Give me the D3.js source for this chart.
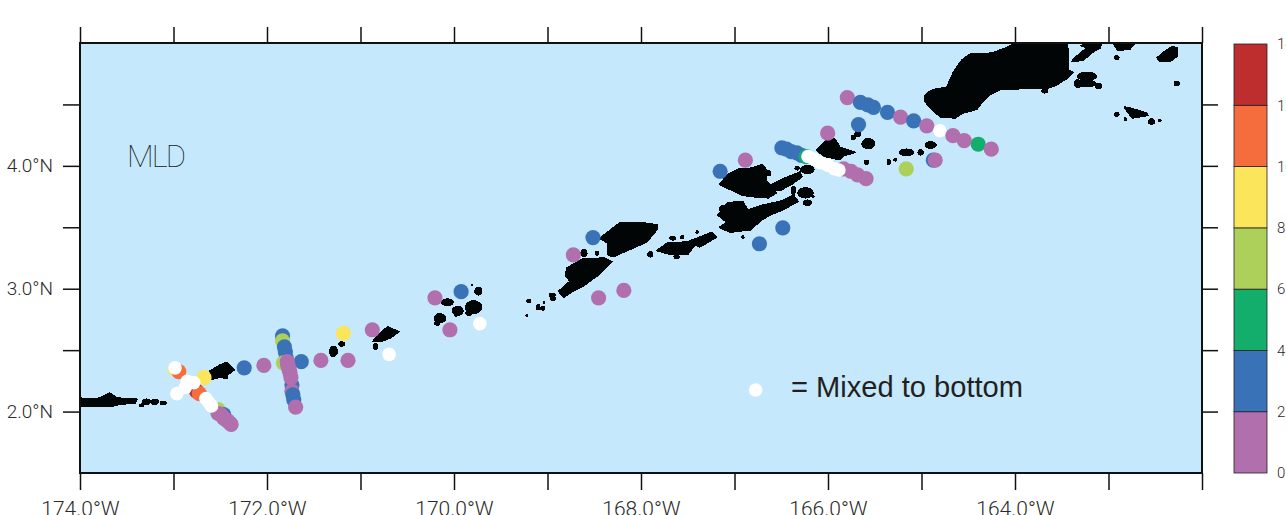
<!DOCTYPE html>
<html>
<head>
<meta charset="utf-8">
<script src="https://cdn.jsdelivr.net/npm/d3@7"></script>
<style>
html, body { margin: 0; padding: 0; background: #fff; overflow: hidden; }
svg { display: block; }
.tick text { font-family: Roboto, sans-serif; font-weight: 300; fill: #2a2a2a; }
</style>
</head>
<body>
<div id="chart"></div>
<script>
// station positions and mixed layer depth, null = mixed to bottom
const stationLon = [-172.99,-172.95,-172.68,-172.76,-172.73,-172.53,-172.47,-172.53,-172.50,-172.47,-172.45,-172.43,-172.41,-172.39,
  -172.99,-172.86,-172.79,-172.88,-172.97,-172.66,-172.63,-172.60,
  -171.84,-171.84,-171.82,-171.81,-171.80,-171.83,-171.64,-171.79,-171.785,-171.78,-171.77,-171.76,-171.74,-171.75,-171.74,-171.73,-171.72,-171.70,
  -172.25,-172.04,-171.43,-171.14,-171.19,-170.88,-170.70,
  -170.21,-169.93,-170.05,-169.73,-168.73,-168.52,-168.46,-168.19,
  -167.16,-166.89,-166.74,-166.49,-166.50,-166.45,-166.40,-166.34,-166.29,-166.24,
  -165.84,-165.76,-165.69,-165.60,-166.22,-166.16,-166.09,-166.01,-165.94,-165.89,
  -166.01,-165.68,-165.80,-165.66,-165.58,-165.52,-165.37,-165.23,-165.09,-164.95,-164.81,-164.67,-164.55,-164.40,-164.26,
  -164.88,-164.86,-165.17,-166.78];
const stationLat = [2.35,2.33,2.28,2.17,2.15,2.02,1.98,1.99,1.98,1.95,1.94,1.93,1.915,1.90,
  2.36,2.25,2.24,2.20,2.15,2.11,2.08,2.05,
  2.62,2.58,2.53,2.49,2.44,2.40,2.41,2.41,2.39,2.37,2.345,2.32,2.22,2.28,2.17,2.14,2.10,2.04,
  2.36,2.38,2.42,2.42,2.64,2.67,2.47,
  2.93,2.98,2.67,2.72,3.28,3.42,2.93,2.99,
  3.96,4.05,3.37,3.50,4.15,4.14,4.12,4.11,4.09,4.08,
  3.98,3.96,3.93,3.90,4.08,4.06,4.03,4.01,3.98,3.97,
  4.27,4.34,4.56,4.52,4.50,4.48,4.44,4.40,4.37,4.33,4.29,4.25,4.21,4.18,4.14,
  4.05,4.05,3.98,2.18];
const stationMld = [9,11,9,13,11,7,3,1,1,1,1,1,1,1,
  null,null,null,null,null,null,null,null,
  3,7,3,3,3,7,3,1,1,1,1,1,3,1,1,3,3,1,
  3,1,1,1,9,1,null,
  1,3,1,null,1,3,1,1,
  3,1,3,3,3,3,3,3,3,5,
  1,1,1,1,null,null,null,null,null,null,
  1,3,1,3,3,3,3,1,3,1,null,1,1,5,1,
  3,1,7,null];

// colour bar
const mldLevels = [0,2,4,6,8,10,12,14];
const mldColors = ["#b26fae","#3a72b8","#14ae6c","#add05a","#fbe55a","#f66d3d","#bf2e2e"];

// axis ticks
const lonTicks = [-174,-173,-172,-171,-170,-169,-168,-167,-166,-165,-164,-163,-162];
const lonLabels = [-174,-172,-170,-168,-166,-164];
const latTicks = [2,2.5,3,3.5,4,4.5];
const latLabels = [2,3,4];

// coastlines traced by hand, [lon, lat]
const landPolygons = [
  [[-164.94,4.59],[-164.88,4.62],[-164.73,4.64],[-164.66,4.76],[-164.57,4.86],[-164.48,4.91],[-164.34,4.91],[-164.24,4.92],[-164.13,4.95],[-163.98,5],[-163.44,5],[-163.43,4.90],[-163.43,4.78],[-163.38,4.76],[-163.43,4.72],[-163.55,4.66],[-163.66,4.63],[-163.91,4.63],[-164.16,4.62],[-164.27,4.58],[-164.35,4.52],[-164.41,4.46],[-164.56,4.43],[-164.64,4.39],[-164.80,4.40],[-164.89,4.46],[-164.96,4.52],[-164.97,4.56]],
  [[-163.30,4.98],[-163.07,5],[-163.09,4.96],[-163.18,4.92],[-163.27,4.86],[-163.39,4.85],[-163.36,4.88],[-163.23,4.96]],
  [[-162.48,4.88],[-162.40,4.93],[-162.32,4.97],[-162.26,4.96],[-162.27,4.89],[-162.34,4.85],[-162.45,4.85]],
  [[-162.95,5],[-162.72,5],[-162.77,4.95],[-162.90,4.94]],
  [[-162.83,4.48],[-162.77,4.47],[-162.59,4.43],[-162.58,4.41],[-162.74,4.39],[-162.80,4.44]],
  [[-166.12,4.13],[-166.03,4.20],[-165.93,4.22],[-165.87,4.15],[-165.71,4.11],[-165.84,4.08],[-165.87,4.05],[-166.05,4.08]],
  [[-167.16,3.85],[-167.07,3.93],[-166.94,3.98],[-166.83,3.98],[-166.70,4.01],[-166.64,3.95],[-166.67,3.89],[-166.55,3.78],[-166.64,3.74],[-166.81,3.75],[-166.91,3.76],[-167.08,3.82]],
  [[-166.60,3.85],[-166.46,3.90],[-166.30,3.95],[-166.28,3.91],[-166.39,3.85],[-166.51,3.80],[-166.60,3.80]],
  [[-167.18,3.60],[-167.07,3.70],[-166.91,3.71],[-166.86,3.64],[-166.70,3.68],[-166.51,3.71],[-166.37,3.76],[-166.32,3.71],[-166.49,3.64],[-166.62,3.60],[-166.71,3.56],[-166.83,3.48],[-167.05,3.46],[-167.16,3.50],[-167.08,3.54]],
  [[-168.44,3.41],[-168.22,3.54],[-168.01,3.54],[-167.83,3.52],[-167.83,3.48],[-167.94,3.38],[-168.12,3.32],[-168.30,3.26],[-168.36,3.28],[-168.35,3.37]],
  [[-168.79,3.17],[-168.63,3.24],[-168.39,3.25],[-168.31,3.22],[-168.46,3.11],[-168.62,3.02],[-168.73,2.98],[-168.83,2.93],[-168.88,2.98],[-168.76,3.06],[-168.81,3.11]],
  [[-167.83,3.31],[-167.72,3.37],[-167.51,3.38],[-167.40,3.41],[-167.24,3.46],[-167.19,3.42],[-167.37,3.34],[-167.42,3.36],[-167.50,3.28],[-167.69,3.28]],
  [[-170.87,2.57],[-170.77,2.65],[-170.71,2.69],[-170.59,2.65],[-170.68,2.60],[-170.78,2.57]],
  [[-172.61,2.33],[-172.50,2.38],[-172.43,2.40],[-172.35,2.34],[-172.42,2.30],[-172.43,2.27],[-172.50,2.28],[-172.61,2.26]],
  [[-174,2.11],[-173.89,2.10],[-173.79,2.11],[-173.68,2.15],[-173.60,2.11],[-173.39,2.10],[-173.41,2.07],[-173.57,2.06],[-173.68,2.04],[-173.86,2.04],[-174,2.04]]
];
// small islands: lon, lat, half width and half height in degrees
const islets = [
  [-163.23,4.73,.10,.03],[-163.25,4.67,.11,.025],[-163.11,4.65,.03,.02],[-163.33,4.67,.03,.03],[-162.27,4.67,.025,.015],
  [-162.91,4.88,.02,.015],[-163.68,4.61,.03,.015],[-162.91,4.42,.02,.015],[-162.54,4.36,.03,.02],[-162.82,4.38,.01,.01],[-162.45,4.37,.01,.01],
  [-165.57,4.18,.065,.04],[-165.68,4.26,.03,.02],[-165.73,4.23,.02,.015],[-165.59,4.03,.02,.015],[-165.16,4.11,.075,.025],[-165.01,4.11,.025,.02],[-164.90,4.17,.055,.025],[-165.35,4.03,.015,.02],[-165.28,4.05,.015,.01],
  [-166.22,3.97,.07,.03],[-166.24,3.78,.08,.04],[-166.22,3.70,.04,.02],[-166.37,3.80,.02,.03],[-166.63,3.94,.015,.02],[-167.12,3.65,.035,.025],[-166.91,3.42,.01,.012],[-166.16,3.75,.01,.01],[-166.33,3.98,.02,.012],
  [-168.61,3.29,.03,.025],[-168.47,3.29,.012,.015],[-167.90,3.28,.025,.02],[-167.62,3.26,.025,.012],[-167.66,3.41,.03,.012],[-167.56,3.42,.015,.01],[-167.40,3.46,.01,.012],
  [-168.95,2.95,.03,.012],[-168.94,2.92,.025,.015],[-169.20,2.90,.02,.012],[-169.10,2.85,.015,.02],[-169.05,2.84,.02,.012],[-169.04,2.89,.005,.008],[-169.22,2.78,.008,.008],
  [-170.07,2.89,.06,.025],[-169.96,2.82,.055,.035],[-169.79,2.85,.085,.05],[-169.74,2.98,.035,.03],[-169.84,2.80,.03,.015],[-170.15,2.76,.06,.035],[-170.18,2.72,.025,.015],[-169.81,3.03,.005,.005],[-169.98,2.78,.008,.008],
  [-170.84,2.53,.02,.02],[-171.29,2.49,.04,.04],[-171.20,2.55,.03,.015],
  [-173.29,2.08,.04,.02],[-173.20,2.08,.035,.02],[-173.11,2.07,.03,.012],[-173.34,2.05,.02,.01]
];

const WIDTH = 1286, HEIGHT = 515;
const PLOT = { LEFT: 80, RIGHT: 1202, TOP: 43, BOTTOM: 473 };
const BAR = { LEFT: 1234, RIGHT: 1267, TOP: 44, BOTTOM: 473 };

const svg = d3.select("#chart").append("svg")
  .attr("width", WIDTH)
  .attr("height", HEIGHT);

const x = d3.scaleLinear().domain([-174, -162]).range([PLOT.LEFT, PLOT.RIGHT]);
const y = d3.scaleLinear().domain([1.5, 5]).range([PLOT.BOTTOM, PLOT.TOP]);
const color = d3.scaleThreshold().domain(mldLevels.slice(1, -1)).range(mldColors);

svg.append("clipPath").attr("id", "plot-clip").append("rect")
  .attr("x", PLOT.LEFT).attr("y", PLOT.TOP)
  .attr("width", PLOT.RIGHT - PLOT.LEFT).attr("height", PLOT.BOTTOM - PLOT.TOP);

// sea
svg.append("rect")
  .attr("x", PLOT.LEFT).attr("y", PLOT.TOP)
  .attr("width", PLOT.RIGHT - PLOT.LEFT).attr("height", PLOT.BOTTOM - PLOT.TOP)
  .attr("fill", "#c5e8fc");

// land, drawn without antialiasing for the blocky coast of the original
const land = svg.append("g")
  .attr("clip-path", "url(#plot-clip)")
  .attr("fill", "#020506")
  .attr("stroke", "#020506")
  .attr("stroke-width", 1.6)
  .attr("stroke-linejoin", "round")
  .attr("shape-rendering", "crispEdges");
const coast = d3.line().x(d => x(d[0])).y(d => y(d[1])).curve(d3.curveLinearClosed);
land.selectAll("path").data(landPolygons).join("path").attr("d", coast);
land.selectAll("ellipse").data(islets).join("ellipse")
  .attr("cx", d => x(d[0]))
  .attr("cy", d => y(d[1]))
  .attr("rx", d => x(d[0] + d[2]) - x(d[0]))
  .attr("ry", d => y(d[1]) - y(d[1] + d[3]));

// stations
svg.append("g")
  .attr("transform", "translate(0.6,0.5)")
  .selectAll("circle")
  .data(stationMld)
  .join("circle")
  .attr("cx", (d, i) => x(stationLon[i]))
  .attr("cy", (d, i) => y(stationLat[i]))
  .attr("r", d => d === null ? 6.8 : 7.6)
  .attr("fill", d => d === null ? "#fff" : color(d));

// frame
svg.append("rect")
  .attr("x", PLOT.LEFT).attr("y", PLOT.TOP)
  .attr("width", PLOT.RIGHT - PLOT.LEFT).attr("height", PLOT.BOTTOM - PLOT.TOP)
  .attr("fill", "none").attr("stroke", "#111").attr("stroke-width", 2);

// axes
const lonFormat = d => lonLabels.includes(d) ? Math.abs(d).toFixed(1) + "°W" : "";
const latFormat = d => latLabels.includes(d) ? d.toFixed(1) + "°N" : "";

const styleAxis = g => {
  g.select(".domain").remove();
  g.selectAll("line").attr("stroke", "#111").attr("stroke-width", 1.5);
};

svg.append("g")
  .attr("transform", "translate(0," + PLOT.BOTTOM + ")")
  .call(d3.axisBottom(x).tickValues(lonTicks).tickFormat(lonFormat).tickSize(17).tickPadding(11))
  .call(styleAxis)
  .selectAll("text").style("font-size", "21px");

svg.append("g")
  .attr("transform", "translate(0," + PLOT.TOP + ")")
  .call(d3.axisTop(x).tickValues(lonTicks).tickFormat("").tickSize(16))
  .call(styleAxis);

svg.append("g")
  .attr("transform", "translate(" + PLOT.LEFT + ",0)")
  .call(d3.axisLeft(y).tickValues(latTicks).tickFormat(latFormat).tickSize(17).tickPadding(10))
  .call(styleAxis)
  .selectAll("text").style("font-size", "19px");

svg.append("g")
  .attr("transform", "translate(" + PLOT.RIGHT + ",0)")
  .call(d3.axisRight(y).tickValues(latTicks).tickFormat("").tickSize(16))
  .call(styleAxis);

// colour bar
const barY = d3.scaleLinear().domain([0, 14]).range([BAR.BOTTOM, BAR.TOP]);
svg.append("g").selectAll("rect")
  .data(mldColors)
  .join("rect")
  .attr("x", BAR.LEFT)
  .attr("y", (d, i) => barY(mldLevels[i + 1]))
  .attr("width", BAR.RIGHT - BAR.LEFT)
  .attr("height", (d, i) => barY(mldLevels[i]) - barY(mldLevels[i + 1]))
  .attr("fill", d => d)
  .attr("stroke", "#222")
  .attr("stroke-width", 0.8);

const barAxis = svg.append("g")
  .attr("transform", "translate(" + BAR.RIGHT + ",0)")
  .call(d3.axisRight(barY).tickValues(mldLevels).tickSize(0).tickPadding(10));
barAxis.select(".domain").remove();
barAxis.selectAll("text").style("font-size", "15px");

// annotations
svg.append("text")
  .attr("x", 127).attr("y", 167)
  .attr("font-family", "Roboto, sans-serif")
  .attr("font-weight", 100)
  .attr("font-size", 31)
  .attr("textLength", 59)
  .attr("fill", "#10181c")
  .text("MLD");

svg.append("text")
  .attr("x", 791).attr("y", 397)
  .attr("font-family", "'Liberation Sans', Arial, sans-serif")
  .attr("font-size", 30)
  .attr("textLength", 232)
  .attr("lengthAdjust", "spacingAndGlyphs")
  .attr("fill", "#231f20")
  .text("= Mixed to bottom");
</script>
</body>
</html>
